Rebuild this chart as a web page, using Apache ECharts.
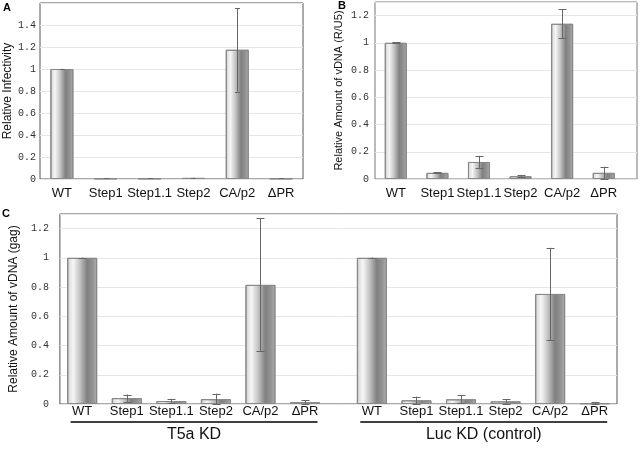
<!DOCTYPE html>
<html><head><meta charset="utf-8">
<script src="https://cdn.jsdelivr.net/npm/echarts@6/dist/echarts.min.js"></script>
<style>html,body{margin:0;padding:0;background:#fff}#c{width:640px;height:455px}</style>
</head><body><div id="c"></div><script>
// ---- data ----
const categories = ['WT', 'Step1', 'Step1.1', 'Step2', 'CA/p2', 'ΔPR'];
const aValues = [1.0, 0.005, 0.005, 0.01, 1.175, 0.005];
const aErrors = [0.002, 0, 0, 0.002, 0.38, 0];
const bValues = [1.0, 0.045, 0.125, 0.02, 1.14, 0.045];
const bErrors = [0.003, 0.004, 0.045, 0.008, 0.105, 0.045];
const cT5aValues = [1.0, 0.04, 0.02, 0.033, 0.815, 0.012];
const cT5aErrors = [0.002, 0.025, 0.015, 0.038, 0.455, 0.012];
const cLucValues = [1.0, 0.025, 0.032, 0.018, 0.753, 0.005];
const cLucErrors = [0.002, 0.025, 0.028, 0.015, 0.316, 0.008];
const groupLabels = ['T5a KD', 'Luc KD (control)'];
const axisNames = ['Relative Infectivity', 'Relative Amount of vDNA (R/U5)', 'Relative Amount of vDNA (gag)'];
const panelLetters = ['A', 'B', 'C'];

// ---- layout ----
const GROUP_OFFSET = 6.5;
const chart = echarts.init(document.getElementById('c'));
const SANS = 'Liberation Sans, Arial, sans-serif';
const MONO = 'Liberation Mono, Courier New, monospace';

const barFill = {
  type: 'linear', x: 0, y: 0, x2: 1, y2: 0,
  colorStops: [
    {offset: 0, color: '#b4b4b4'}, {offset: 0.07, color: '#dedede'},
    {offset: 0.2, color: '#f6f6f6'}, {offset: 0.42, color: '#c4c4c4'},
    {offset: 0.66, color: '#808080'}, {offset: 0.86, color: '#949494'},
    {offset: 1, color: '#b2b2b2'}
  ]
};

function makePositions(groups) {
  const pos = [];
  for (let g = 0; g < groups; g++) for (let i = 0; i < categories.length; i++) pos.push(i + g * GROUP_OFFSET);
  return pos;
}
function labelFormatter(pos) {
  return function (v) {
    for (let k = 0; k < pos.length; k++) if (Math.abs(pos[k] - v) < 1e-6) return categories[k % categories.length];
    return '';
  };
}
function xAxisCfg(gi, max, pos, margin) {
  return {
    type: 'value', gridIndex: gi, min: -0.5, max: max, interval: 0.5,
    axisLine: {show: false}, axisTick: {show: false}, splitLine: {show: false},
    axisLabel: {formatter: labelFormatter(pos), margin: margin, fontSize: 13, color: '#111', fontFamily: SANS, showMinLabel: true, showMaxLabel: true}
  };
}
function yAxisCfg(gi, max, name, labelMargin, nameGap, nameSize) {
  return {
    type: 'value', gridIndex: gi, min: 0, max: max, interval: 0.2,
    axisLine: {show: false},
    axisTick: {show: false},
    splitLine: {lineStyle: {color: '#e6e6e6', width: 1}},
    axisLabel: {fontFamily: MONO, fontSize: 10, color: '#333', margin: labelMargin,
      formatter: v => (v > max - 0.01 ? '' : String(+v.toFixed(2)))},
    name: name, nameLocation: 'middle', nameGap: nameGap,
    nameTextStyle: {fontFamily: SANS, fontSize: nameSize, color: '#111'}
  };
}
function barSeries(gi, pos, values, width) {
  return {
    type: 'bar', xAxisIndex: gi, yAxisIndex: gi, barWidth: width, z: 2,
    data: values.map((v, i) => [pos[i], v]),
    itemStyle: {color: barFill, borderColor: '#888', borderWidth: 1},
    silent: true
  };
}
function errSeries(gi, pos, values, errors, capW) {
  return {
    type: 'custom', xAxisIndex: gi, yAxisIndex: gi, z: 5, silent: true,
    data: values.map((v, i) => [pos[i], Math.max(0, v - errors[i]), v + errors[i]]),
    renderItem: function (params, api) {
      const x = api.value(0), lo = api.value(1), hi = api.value(2);
      const p1 = api.coord([x, hi]), p2 = api.coord([x, lo]);
      const cx = Math.round(p1[0]) + 0.5;
      const st = {stroke: '#666', lineWidth: 1};
      return {type: 'group', children: [
        {type: 'line', shape: {x1: cx, y1: p1[1], x2: cx, y2: p2[1]}, style: st},
        {type: 'line', shape: {x1: cx - capW / 2, y1: Math.round(p1[1]) + 0.5, x2: cx + capW / 2, y2: Math.round(p1[1]) + 0.5}, style: st},
        {type: 'line', shape: {x1: cx - capW / 2, y1: Math.round(p2[1]) + 0.5, x2: cx + capW / 2, y2: Math.round(p2[1]) + 0.5}, style: st}
      ]};
    }
  };
}

const posAB = makePositions(1);
const posC = makePositions(2);
const cValues = cT5aValues.concat(cLucValues);
const cErrors = cT5aErrors.concat(cLucErrors);

const option = {
  animation: false,
  backgroundColor: '#fff',
  grid: [
    {left: 40, top: 3, width: 263, height: 176, show: true, borderColor: '#555', borderWidth: 1, backgroundColor: 'transparent'},
    {left: 375, top: 2, width: 263, height: 177, show: true, borderColor: '#777', borderWidth: 1, backgroundColor: 'transparent'},
    {left: 51, top: 214, width: 566, height: 190, show: true, borderColor: '#555', borderWidth: 1, backgroundColor: 'transparent'}
  ],
  xAxis: [
    xAxisCfg(0, 5.5, posAB, 8),
    xAxisCfg(1, 5.8, posAB, 8),
    xAxisCfg(2, 12, posC, 1)
  ],
  yAxis: [
    yAxisCfg(0, 1.6, axisNames[0], 4, 26, 12),
    yAxisCfg(1, 1.3, axisNames[1], 6, 31, 11),
    yAxisCfg(2, 1.3, axisNames[2], 11, 36, 12)
  ],
  series: [
    barSeries(0, posAB, aValues, 23), errSeries(0, posAB, aValues, aErrors, 5),
    barSeries(1, posAB, bValues, 22), errSeries(1, posAB, bValues, bErrors, 8),
    barSeries(2, posC, cValues, 30), errSeries(2, posC, cValues, cErrors, 8)
  ],
  graphic: [
    {type: 'text', left: 3, top: 2, style: {text: panelLetters[0], font: 'bold 11px ' + SANS, fill: '#000'}},
    {type: 'text', left: 338, top: 0, style: {text: panelLetters[1], font: 'bold 11px ' + SANS, fill: '#000'}},
    {type: 'text', left: 2, top: 208, style: {text: panelLetters[2], font: 'bold 11px ' + SANS, fill: '#000'}}
  ]
};
chart.setOption(option);

// group underlines & labels placed via the axis scale
const groupExtras = [];
for (let g = 0; g < 2; g++) {
  const xa = chart.convertToPixel({xAxisIndex: 2}, -0.26 + g * GROUP_OFFSET);
  const xb = chart.convertToPixel({xAxisIndex: 2}, 5.28 + g * GROUP_OFFSET);
  groupExtras.push({type: 'line', shape: {x1: xa, y1: 422, x2: xb, y2: 422}, style: {stroke: '#000', lineWidth: 1.5}});
  groupExtras.push({type: 'text', x: (xa + xb) / 2, y: 435, style: {text: groupLabels[g], font: '16px ' + SANS, fill: '#111', textAlign: 'center', textVerticalAlign: 'middle'}});
}
chart.setOption({graphic: option.graphic.concat(groupExtras)});
</script></body></html>
